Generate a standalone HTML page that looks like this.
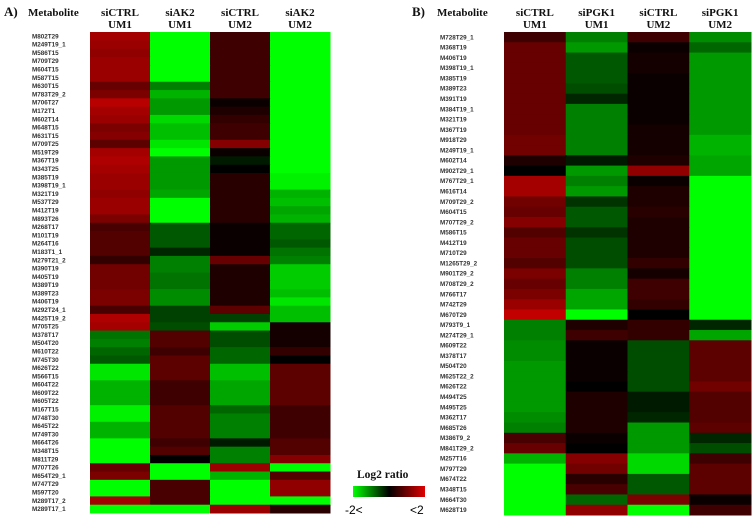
<!DOCTYPE html>
<html><head><meta charset="utf-8"><style>
body{margin:0;background:#fff;width:756px;height:522px;overflow:hidden}
svg{display:block}
.h{font-family:"Liberation Serif",serif;font-weight:bold;font-size:11px;fill:#111}
.l{font-family:"Liberation Sans",sans-serif;font-weight:bold;font-size:6.3px;fill:#333}
</style></head><body>
<svg id="c" width="756" height="522">
<text class="h" x="4" y="16" style="font-size:13px">A)</text>
<text class="h" x="28" y="16">Metabolite</text>
<text class="h" x="412" y="16" style="font-size:13px">B)</text>
<text class="h" x="437" y="16">Metabolite</text>
<g>
<text class="h" x="357" y="478" style="font-size:11.5px">Log2 ratio</text>
<defs><linearGradient id="lg"><stop offset="0" stop-color="#00ff00"/><stop offset="0.5" stop-color="#000"/><stop offset="1" stop-color="#e00000"/></linearGradient></defs>
<rect x="353" y="486" width="72" height="11" fill="url(#lg)"/>
<text x="345" y="514" style="font-family:'Liberation Sans',sans-serif;font-size:12px">-2&lt;</text>
<text x="410" y="514" style="font-family:'Liberation Sans',sans-serif;font-size:12px">&lt;2</text>
</g>
</svg>
<script>
const aCols=["siCTRL|UM1","siAK2|UM1","siCTRL|UM2","siAK2|UM2"];
const aRows=["M802T29","M249T19_1","M586T15","M709T29","M604T15","M587T15","M630T15","M783T29_2","M706T27","M172T1","M602T14","M648T15","M631T15","M709T25","M519T29","M367T19","M343T25","M385T19","M398T19_1","M321T19","M537T29","M412T19","M893T26","M268T17","M101T19","M264T16","M183T1_1","M279T21_2","M390T19","M405T19","M389T19","M389T23","M406T19","M292T24_1","M425T19_2","M705T25","M378T17","M504T20","M610T22","M745T30","M626T22","M566T15","M604T22","M609T22","M605T22","M167T15","M748T30","M645T22","M749T30","M664T26","M348T15","M811T29","M707T26","M654T29_1","M747T29","M597T20","M289T17_2","M289T17_1"];
const aV1=[1.6,1.5,1.4,1.5,1.5,1.5,1.0,1.2,1.8,1.6,1.5,1.2,1.3,0.9,1.6,1.7,1.6,1.5,1.5,1.4,1.5,1.5,1.2,0.7,0.8,0.8,0.8,0.5,1.1,1.1,1.1,1.2,1.2,0.7,1.7,1.6,-0.9,-1.0,-0.8,-0.7,-1.8,-1.8,-1.4,-1.4,-1.4,-1.9,-1.9,-1.4,-1.4,-2,-2,-2,1.0,1.2,-2,-2,1.6,-2];
const aV2=[-2,-2,-2,-2,-2,-2,-1.0,-1.4,-1.2,-1.2,-1.7,-1.5,-1.5,-1.8,-2,-1.2,-1.2,-1.2,-1.2,-1.3,-2,-2,-2,-0.7,-0.7,-0.7,-0.3,-1.0,-1.0,-0.9,-0.9,-1.1,-1.1,-0.5,-0.5,-0.6,0.8,0.8,0.6,0.9,0.9,0.9,0.6,0.6,0.6,0.8,0.8,0.8,0.8,0.6,0.8,0,-2,-2,0.7,0.7,0.7,-2];
const aV3=[0.6,0.6,0.6,0.6,0.6,0.6,0.6,0.6,0.1,0.3,0.5,0.6,0.6,1.3,0.1,-0.2,0,0.4,0.4,0.4,0.4,0.4,0.4,0.1,0.1,0.1,0.1,1.0,0.3,0.3,0.3,0.3,0.3,0.9,-0.5,-1.6,-0.6,-0.6,-0.8,-0.8,-1.5,-1.5,-1.3,-1.3,-1.3,-0.8,-1.0,-1.0,-1.0,-0.2,-1.0,-1.0,1.5,-1.4,-2,-2,-2,1.5];
const aV4=[-2,-2,-2,-2,-2,-2,-2,-2,-2,-2,-2,-2,-2,-2,-2,-2,-2,-1.9,-1.9,-1.4,-1.5,-1.3,-1.4,-0.8,-0.8,-0.7,-0.9,-1.0,-1.6,-1.6,-1.6,-1.5,-1.8,-1.5,-1.5,0.2,0.2,0.2,0.5,0,0.9,0.9,0.9,0.9,0.9,0.6,0.6,0.6,0.6,0.8,0.8,1.3,-2,0.8,1.4,1.4,-2,0.4];
const bCols=["siCTRL|UM1","siPGK1|UM1","siCTRL|UM2","siPGK1|UM2"];
const bRows=["M728T29_1","M368T19","M406T19","M398T19_1","M385T19","M389T23","M391T19","M384T19_1","M321T19","M367T19","M918T29","M249T19_1","M602T14","M902T29_1","M767T29_1","M616T14","M709T29_2","M604T15","M707T29_2","M586T15","M412T19","M710T29","M1265T29_2","M901T29_2","M708T29_2","M766T17","M742T29","M670T29","M793T9_1","M274T29_1","M609T22","M378T17","M504T20","M625T22_2","M626T22","M494T25","M495T25","M362T17","M685T26","M386T9_2","M841T29_2","M257T16","M797T29","M674T22","M348T15","M664T30","M628T19"];
const bV1=[0.6,1.0,1.0,1.0,1.0,1.0,1.0,1.0,1.0,1.0,1.1,1.1,0.3,0,1.6,1.6,1.1,1.0,1.3,0.8,1.0,1.0,0.8,1.2,1.0,1.2,1.5,1.9,-1.0,-1.0,-1.1,-1.1,-1.2,-1.2,-1.2,-1.2,-1.2,-1.1,-1.0,0.7,1.0,-1.4,-2,-2,-2,-2,-2];
const bV2=[-1.0,-1.2,-0.7,-0.7,-0.7,-0.6,-0.3,-1.0,-1.0,-1.0,-1.0,-1.0,-0.2,-1.2,-1.0,-1.2,-0.4,-0.7,-0.7,-0.4,-0.6,-0.6,-0.6,-1.0,-1.0,-1.3,-1.3,-2,0.3,0.6,0.1,0.1,0.1,0.1,0,0.3,0.3,0.3,0.3,0.1,0,1.3,1.1,0.4,0.7,-0.8,1.4];
const bV3=[0.6,0.1,0.2,0.2,0.1,0.1,0.1,0.1,0.1,0.2,0.2,0.2,0.3,1.4,0.1,0.3,0.3,0.4,0.3,0.3,0.3,0.3,0.5,0.2,0.6,0.6,0.5,0,0.5,0.5,-0.6,-0.6,-0.6,-0.6,-0.6,-0.2,-0.2,-0.3,-1.2,-1.2,-1.2,-1.7,-1.7,-0.7,-0.7,1.2,-2];
const bV4=[-1.1,-0.8,-1.2,-1.2,-1.2,-1.2,-1.2,-1.2,-1.2,-1.2,-1.4,-1.4,-1.3,-1.3,-2,-2,-2,-2,-2,-2,-2,-2,-2,-2,-2,-2,-2,-2,-0.3,-1.3,0.9,0.9,0.9,0.9,1.1,0.8,0.8,0.8,0.9,-0.3,-0.6,0.6,0.9,0.9,0.9,0.1,0.6];
const NS="http://www.w3.org/2000/svg";
const svg=document.getElementById('c');
function color(v){v=Math.max(-2,Math.min(2,v));
 if(v>=0){return `rgb(${Math.round(v/2*205)},0,0)`;}
 return `rgb(0,${Math.round(-v/2*255)},0)`;}
function panel(key,cols,rows,vals,x0,x1,y0,y1,lx){
 const cw=(x1-x0)/cols.length, rh=(y1-y0)/rows.length;
 cols.forEach((c,i)=>{const [a,b]=c.split('|');
  [a,b].forEach((s,k)=>{const t=document.createElementNS(NS,'text');
   t.setAttribute('class','h');t.setAttribute('x',x0+cw*(i+0.5));t.setAttribute('y',k?28:16);
   t.setAttribute('text-anchor','middle');t.textContent=s;
   
   
   svg.appendChild(t);});});
 rows.forEach((r,j)=>{const t=document.createElementNS(NS,'text');
  t.setAttribute('class','l');t.setAttribute('x',lx);t.setAttribute('y',y0+rh*(j+0.5)+2.2);t.textContent=r;
  
  
  svg.appendChild(t);
  vals.forEach((arr,i)=>{const e=document.createElementNS(NS,'rect');
   e.setAttribute('x',x0+cw*i);e.setAttribute('y',y0+rh*j);e.setAttribute('width',cw+0.5);e.setAttribute('height',rh+0.5);
   e.setAttribute('fill',color(arr[j]));
   
   
   svg.appendChild(e);});});
}
panel('panel-a',aCols,aRows,[aV1,aV2,aV3,aV4],90,330,32,513,32);
panel('panel-b',bCols,bRows,[bV1,bV2,bV3,bV4],504,751,32,515,440);
</script>
</body></html>
